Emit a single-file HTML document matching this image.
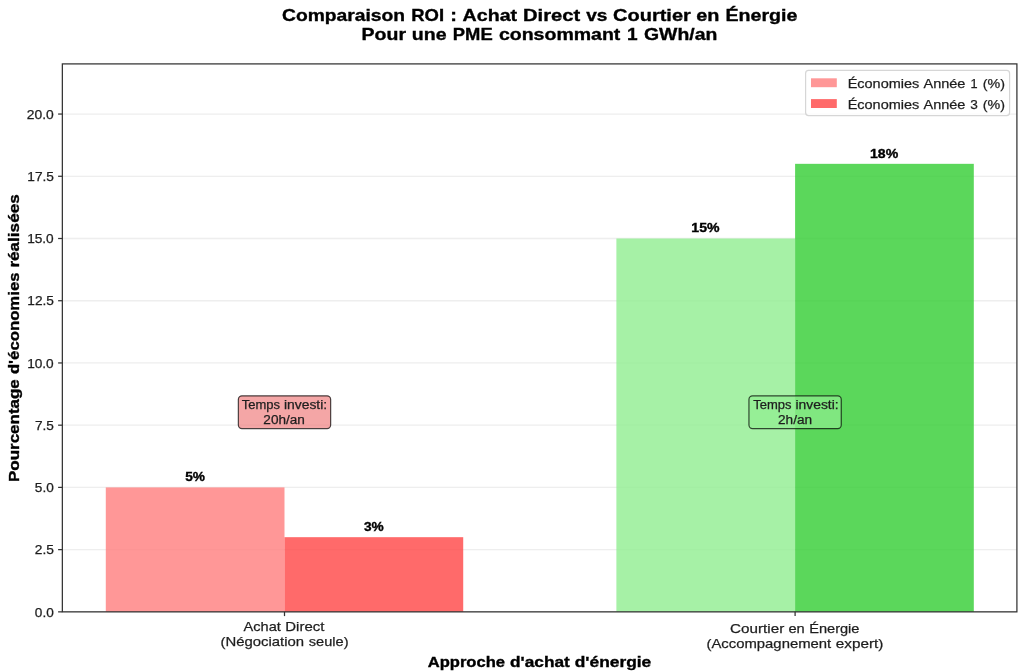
<!DOCTYPE html>
<html><head><meta charset="utf-8"><style>
html,body{margin:0;padding:0;background:#fff;width:1024px;height:672px;overflow:hidden}
svg{display:block;will-change:transform}
text{font-family:"Liberation Sans",sans-serif;fill:#1e1e1e;stroke:#1e1e1e;stroke-width:0.25px}
text[font-weight=bold]{fill:#000;stroke:#000;stroke-width:0.35px}
</style></head><body>
<svg width="1024" height="672" viewBox="0 0 1024 672">
<rect width="1024" height="672" fill="#fff"/>
<line x1="62.35" x2="1016.9" y1="611.85" y2="611.85" stroke="#b0b0b0" stroke-opacity="0.22" stroke-width="1.3"/>
<line x1="62.35" x2="1016.9" y1="549.62" y2="549.62" stroke="#b0b0b0" stroke-opacity="0.22" stroke-width="1.3"/>
<line x1="62.35" x2="1016.9" y1="487.40" y2="487.40" stroke="#b0b0b0" stroke-opacity="0.22" stroke-width="1.3"/>
<line x1="62.35" x2="1016.9" y1="425.18" y2="425.18" stroke="#b0b0b0" stroke-opacity="0.22" stroke-width="1.3"/>
<line x1="62.35" x2="1016.9" y1="362.95" y2="362.95" stroke="#b0b0b0" stroke-opacity="0.22" stroke-width="1.3"/>
<line x1="62.35" x2="1016.9" y1="300.73" y2="300.73" stroke="#b0b0b0" stroke-opacity="0.22" stroke-width="1.3"/>
<line x1="62.35" x2="1016.9" y1="238.50" y2="238.50" stroke="#b0b0b0" stroke-opacity="0.22" stroke-width="1.3"/>
<line x1="62.35" x2="1016.9" y1="176.28" y2="176.28" stroke="#b0b0b0" stroke-opacity="0.22" stroke-width="1.3"/>
<line x1="62.35" x2="1016.9" y1="114.05" y2="114.05" stroke="#b0b0b0" stroke-opacity="0.22" stroke-width="1.3"/>
<rect x="105.79" y="487.40" width="178.71" height="124.45" fill="#ff7d7d" fill-opacity="0.8"/>
<rect x="284.50" y="537.18" width="178.71" height="74.67" fill="#ff4545" fill-opacity="0.8"/>
<rect x="616.39" y="238.50" width="178.71" height="373.35" fill="#90ee90" fill-opacity="0.8"/>
<rect x="795.10" y="163.83" width="178.71" height="448.02" fill="#32cd32" fill-opacity="0.8"/>
<rect x="62.35" y="63.9" width="954.55" height="547.95" fill="none" stroke="#333" stroke-width="1.25"/>
<g stroke="#333" stroke-width="1.25"><line x1="58.1" x2="62.35" y1="611.85" y2="611.85"/>
<line x1="58.1" x2="62.35" y1="549.62" y2="549.62"/>
<line x1="58.1" x2="62.35" y1="487.40" y2="487.40"/>
<line x1="58.1" x2="62.35" y1="425.18" y2="425.18"/>
<line x1="58.1" x2="62.35" y1="362.95" y2="362.95"/>
<line x1="58.1" x2="62.35" y1="300.73" y2="300.73"/>
<line x1="58.1" x2="62.35" y1="238.50" y2="238.50"/>
<line x1="58.1" x2="62.35" y1="176.28" y2="176.28"/>
<line x1="58.1" x2="62.35" y1="114.05" y2="114.05"/>
<line x1="284.50" x2="284.50" y1="611.85" y2="616.1"/>
<line x1="795.10" x2="795.10" y1="611.85" y2="616.1"/></g>
<rect x="238.35" y="395.8" width="92.3" height="32.8" rx="3.6" fill="#f08080" fill-opacity="0.7" stroke="#000" stroke-opacity="0.7" stroke-width="1.2"/>
<rect x="748.95" y="395.8" width="92.3" height="32.8" rx="3.6" fill="#90ee90" fill-opacity="0.7" stroke="#000" stroke-opacity="0.7" stroke-width="1.2"/>
<rect x="805.6" y="70.4" width="204" height="45.2" rx="3" fill="#fff" fill-opacity="0.8" stroke="#ccc" stroke-opacity="0.8" stroke-width="1.2"/>
<rect x="811" y="78.3" width="25.8" height="8.9" fill="#ff7d7d" fill-opacity="0.8"/>
<rect x="811" y="99.1" width="25.8" height="8.9" fill="#ff4545" fill-opacity="0.8"/>
<text x="282.00" y="20.60" font-size="17.10" font-weight="bold" textLength="123.02" lengthAdjust="spacingAndGlyphs">Comparaison</text>
<text x="411.28" y="20.60" font-size="17.10" font-weight="bold" textLength="32.84" lengthAdjust="spacingAndGlyphs">ROI</text>
<text x="450.34" y="20.60" font-size="17.10" font-weight="bold" textLength="6.71" lengthAdjust="spacingAndGlyphs">:</text>
<text x="462.64" y="20.60" font-size="17.10" font-weight="bold" textLength="54.47" lengthAdjust="spacingAndGlyphs">Achat</text>
<text x="523.06" y="20.60" font-size="17.10" font-weight="bold" textLength="57.20" lengthAdjust="spacingAndGlyphs">Direct</text>
<text x="586.16" y="20.60" font-size="17.10" font-weight="bold" textLength="21.15" lengthAdjust="spacingAndGlyphs">vs</text>
<text x="613.09" y="20.60" font-size="17.10" font-weight="bold" textLength="77.73" lengthAdjust="spacingAndGlyphs">Courtier</text>
<text x="696.16" y="20.60" font-size="17.10" font-weight="bold" textLength="23.19" lengthAdjust="spacingAndGlyphs">en</text>
<text x="725.51" y="20.60" font-size="17.10" font-weight="bold" textLength="71.98" lengthAdjust="spacingAndGlyphs">Énergie</text>
<text x="361.58" y="40.10" font-size="17.10" font-weight="bold" textLength="44.42" lengthAdjust="spacingAndGlyphs">Pour</text>
<text x="411.86" y="40.10" font-size="17.10" font-weight="bold" textLength="34.79" lengthAdjust="spacingAndGlyphs">une</text>
<text x="452.81" y="40.10" font-size="17.10" font-weight="bold" textLength="39.88" lengthAdjust="spacingAndGlyphs">PME</text>
<text x="498.95" y="40.10" font-size="17.10" font-weight="bold" textLength="121.43" lengthAdjust="spacingAndGlyphs">consommant</text>
<text x="626.94" y="40.10" font-size="17.10" font-weight="bold" textLength="10.60" lengthAdjust="spacingAndGlyphs">1</text>
<text x="644.02" y="40.10" font-size="17.10" font-weight="bold" textLength="73.31" lengthAdjust="spacingAndGlyphs">GWh/an</text>
<text x="427.74" y="667.10" font-size="14.65" font-weight="bold" textLength="77.29" lengthAdjust="spacingAndGlyphs">Approche</text>
<text x="510.07" y="667.10" font-size="14.65" font-weight="bold" textLength="59.75" lengthAdjust="spacingAndGlyphs">d&#39;achat</text>
<text x="574.78" y="667.10" font-size="14.65" font-weight="bold" textLength="76.45" lengthAdjust="spacingAndGlyphs">d&#39;énergie</text>
<text transform="translate(19.20,0) rotate(-90)" x="-482.06" y="0" font-size="14.65" font-weight="bold" textLength="102.87" lengthAdjust="spacingAndGlyphs">Pourcentage</text>
<text transform="translate(19.20,0) rotate(-90)" x="-374.13" y="0" font-size="14.65" font-weight="bold" textLength="101.64" lengthAdjust="spacingAndGlyphs">d&#39;économies</text>
<text transform="translate(19.20,0) rotate(-90)" x="-267.62" y="0" font-size="14.65" font-weight="bold" textLength="73.32" lengthAdjust="spacingAndGlyphs">réalisées</text>
<text x="34.85" y="616.60" font-size="12.21" font-weight="normal" textLength="18.89" lengthAdjust="spacingAndGlyphs">0.0</text>
<text x="34.82" y="554.38" font-size="12.21" font-weight="normal" textLength="19.13" lengthAdjust="spacingAndGlyphs">2.5</text>
<text x="34.85" y="492.15" font-size="12.21" font-weight="normal" textLength="18.89" lengthAdjust="spacingAndGlyphs">5.0</text>
<text x="35.02" y="429.93" font-size="12.21" font-weight="normal" textLength="18.93" lengthAdjust="spacingAndGlyphs">7.5</text>
<text x="27.15" y="367.70" font-size="12.21" font-weight="normal" textLength="26.59" lengthAdjust="spacingAndGlyphs">10.0</text>
<text x="27.35" y="305.48" font-size="12.21" font-weight="normal" textLength="26.61" lengthAdjust="spacingAndGlyphs">12.5</text>
<text x="27.15" y="243.25" font-size="12.21" font-weight="normal" textLength="26.59" lengthAdjust="spacingAndGlyphs">15.0</text>
<text x="27.35" y="181.03" font-size="12.21" font-weight="normal" textLength="26.61" lengthAdjust="spacingAndGlyphs">17.5</text>
<text x="26.78" y="118.80" font-size="12.21" font-weight="normal" textLength="26.96" lengthAdjust="spacingAndGlyphs">20.0</text>
<text x="243.60" y="630.80" font-size="13.43" font-weight="normal" textLength="37.24" lengthAdjust="spacingAndGlyphs">Achat</text>
<text x="285.35" y="630.80" font-size="13.43" font-weight="normal" textLength="39.00" lengthAdjust="spacingAndGlyphs">Direct</text>
<text x="220.50" y="646.30" font-size="13.43" font-weight="normal" textLength="83.63" lengthAdjust="spacingAndGlyphs">(Négociation</text>
<text x="308.83" y="646.30" font-size="13.43" font-weight="normal" textLength="39.72" lengthAdjust="spacingAndGlyphs">seule)</text>
<text x="730.09" y="632.80" font-size="13.43" font-weight="normal" textLength="54.15" lengthAdjust="spacingAndGlyphs">Courtier</text>
<text x="788.41" y="632.80" font-size="13.43" font-weight="normal" textLength="16.31" lengthAdjust="spacingAndGlyphs">en</text>
<text x="809.17" y="632.80" font-size="13.43" font-weight="normal" textLength="50.32" lengthAdjust="spacingAndGlyphs">Énergie</text>
<text x="706.50" y="647.70" font-size="13.43" font-weight="normal" textLength="124.68" lengthAdjust="spacingAndGlyphs">(Accompagnement</text>
<text x="835.80" y="647.70" font-size="13.43" font-weight="normal" textLength="47.59" lengthAdjust="spacingAndGlyphs">expert)</text>
<text x="847.67" y="87.70" font-size="13.43" font-weight="normal" textLength="71.59" lengthAdjust="spacingAndGlyphs">Économies</text>
<text x="923.49" y="87.70" font-size="13.43" font-weight="normal" textLength="41.95" lengthAdjust="spacingAndGlyphs">Année</text>
<text x="970.39" y="87.70" font-size="13.43" font-weight="normal" textLength="7.10" lengthAdjust="spacingAndGlyphs">1</text>
<text x="982.72" y="87.70" font-size="13.43" font-weight="normal" textLength="22.22" lengthAdjust="spacingAndGlyphs">(%)</text>
<text x="847.67" y="108.50" font-size="13.43" font-weight="normal" textLength="71.59" lengthAdjust="spacingAndGlyphs">Économies</text>
<text x="923.49" y="108.50" font-size="13.43" font-weight="normal" textLength="41.95" lengthAdjust="spacingAndGlyphs">Année</text>
<text x="970.15" y="108.50" font-size="13.43" font-weight="normal" textLength="7.59" lengthAdjust="spacingAndGlyphs">3</text>
<text x="982.72" y="108.50" font-size="13.43" font-weight="normal" textLength="22.22" lengthAdjust="spacingAndGlyphs">(%)</text>
<text x="185.25" y="481.10" font-size="12.21" font-weight="bold" textLength="19.77" lengthAdjust="spacingAndGlyphs">5%</text>
<text x="363.96" y="530.88" font-size="12.21" font-weight="bold" textLength="19.77" lengthAdjust="spacingAndGlyphs">3%</text>
<text x="691.30" y="232.20" font-size="12.21" font-weight="bold" textLength="28.22" lengthAdjust="spacingAndGlyphs">15%</text>
<text x="870.01" y="157.53" font-size="12.21" font-weight="bold" textLength="28.22" lengthAdjust="spacingAndGlyphs">18%</text>
<text x="241.70" y="409.10" font-size="12.21" font-weight="normal" textLength="38.25" lengthAdjust="spacingAndGlyphs">Temps</text>
<text x="284.00" y="409.10" font-size="12.21" font-weight="normal" textLength="43.15" lengthAdjust="spacingAndGlyphs">investi:</text>
<text x="263.36" y="423.50" font-size="12.21" font-weight="normal" textLength="41.50" lengthAdjust="spacingAndGlyphs">20h/an</text>
<text x="753.20" y="409.10" font-size="12.21" font-weight="normal" textLength="38.25" lengthAdjust="spacingAndGlyphs">Temps</text>
<text x="795.50" y="409.10" font-size="12.21" font-weight="normal" textLength="43.15" lengthAdjust="spacingAndGlyphs">investi:</text>
<text x="778.06" y="423.50" font-size="12.21" font-weight="normal" textLength="34.10" lengthAdjust="spacingAndGlyphs">2h/an</text>
</svg>
</body></html>
